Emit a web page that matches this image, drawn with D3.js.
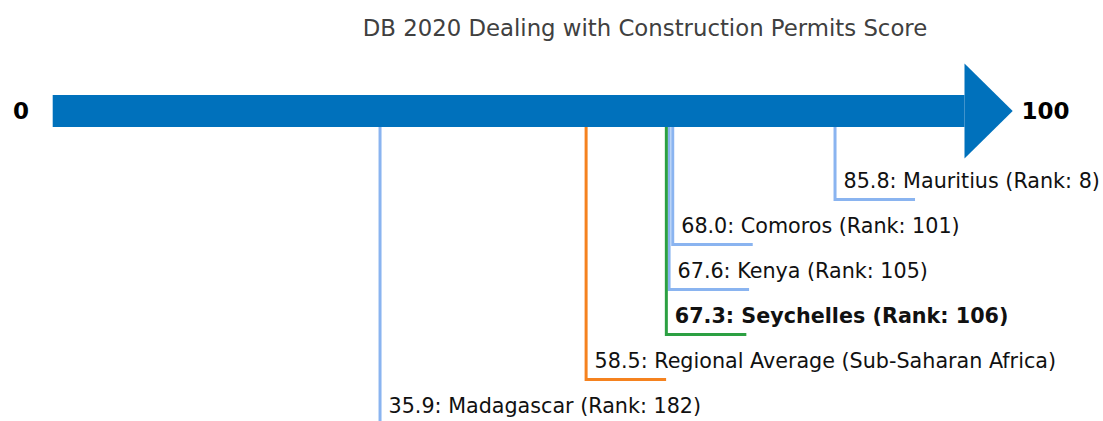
<!DOCTYPE html>
<html><head><meta charset="utf-8">
<script src="https://cdn.jsdelivr.net/npm/d3@7"></script>
<style>body{margin:0;background:#fff}svg{display:block}</style>
</head><body>
<script>
const names = ["Mauritius","Comoros","Kenya","Seychelles","Regional Average (Sub-Saharan Africa)","Madagascar"];
const scores = [85.8, 68.0, 67.6, 67.3, 58.5, 35.9];
const ranks = [8, 101, 105, 106, null, 182];
const kinds = ["peer","peer","peer","focus","region","peer"];
const title = "DB 2020 Dealing with Construction Permits Score";
const axisLabels = ["0","100"];

const W = 1103, H = 421;
const svg = d3.select("body").append("svg").attr("width", W).attr("height", H);
const x = d3.scaleLinear().domain([0,100]).range([52.7, 964.5]);
const level = d3.scaleLinear().domain([0,1]).range([199.5, 244.5]);
const color = {peer:"#8ab4f0", focus:"#2ca042", region:"#f5821f"};
const font = "'DejaVu Sans', sans-serif";
const barTop = 95, barBot = 127, mid = 111;

svg.append("text").attr("x", 645).attr("y", 36).attr("text-anchor","middle")
  .attr("font-family", font).attr("font-size", 22.8).attr("fill","#404040").text(title);

svg.append("rect").attr("x", x(0)).attr("y", barTop).attr("width", x(100)-x(0)).attr("height", barBot-barTop).attr("fill","#0071bc");
svg.append("path").attr("d", `M${x(100)},63.5L1012.7,${mid}L${x(100)},158.5Z`).attr("fill","#0071bc");

svg.append("text").attr("x", 21).attr("y", 119).attr("text-anchor","middle").attr("font-family",font)
  .attr("font-weight","bold").attr("font-size",23).attr("fill","#000").text(axisLabels[0]);
svg.append("text").attr("x", 1021.5).attr("y", 119).attr("font-family",font)
  .attr("font-weight","bold").attr("font-size",23).attr("fill","#000").text(axisLabels[1]);

const data = names.map((n,i)=>({name:n, score:scores[i], rank:ranks[i], kind:kinds[i], lvl:i}));
const g = svg.selectAll("g.item").data(data).enter().append("g");
g.append("path").attr("fill","none").attr("stroke", d=>color[d.kind]).attr("stroke-width",3)
  .attr("d", d=>`M${x(d.score)},${barBot}V${level(d.lvl)}H${x(d.score)+80}`);
g.append("text").attr("x", d=>x(d.score)+8.5).attr("y", d=>level(d.lvl)-12)
  .attr("font-family",font).attr("font-size",20.7).attr("fill","#111")
  .attr("font-weight", d=>d.kind==="focus"?"bold":"normal")
  .text(d=> d.score.toFixed(1)+": "+d.name+(d.rank!=null?" (Rank: "+d.rank+")":""));
</script>
</body></html>
